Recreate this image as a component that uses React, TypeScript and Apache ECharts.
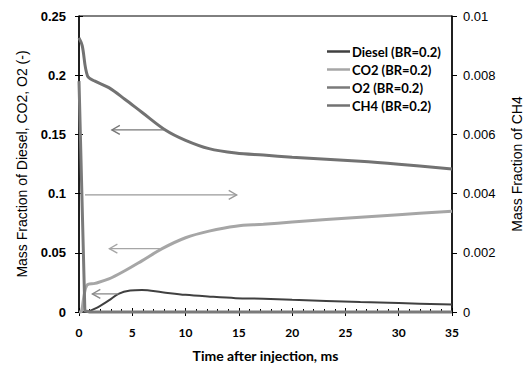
import React, { useEffect, useRef } from "react";
import * as echarts from "echarts";

const dieselT = [0, 0.7, 1.5, 2.8, 3.7, 4.8, 5.9, 7.8, 10, 12.1, 14.7, 17.3, 20, 26.4, 30, 35];
const dieselV = [0, 0.0003, 0.0028, 0.0098, 0.0153, 0.0181, 0.0186, 0.0167, 0.0145, 0.0131, 0.0117, 0.0112, 0.0103, 0.0084, 0.0075, 0.0064];

const co2T = [0, 0.15, 0.72, 1.5, 2.8, 4.3, 5.9, 7.8, 10, 12.2, 14.7, 17.3, 20, 26.4, 30, 35];
const co2V = [0, 0, 0.0223, 0.0242, 0.0279, 0.0348, 0.0432, 0.0535, 0.0627, 0.0683, 0.0725, 0.0741, 0.076, 0.08, 0.0822, 0.085];

const o2T = [0, 0.55, 1, 35];
const o2V = [0.195, 0.001, 0, 0];

const ch4T = [0, 0.3, 0.8, 1.5, 2.8, 4.3, 5.9, 8.1, 10, 12.2, 14.7, 17.3, 20, 26.4, 30, 35];
const ch4V = [0.00926, 0.009, 0.00797, 0.0078, 0.00758, 0.00719, 0.00675, 0.00615, 0.0058, 0.00552, 0.00537, 0.0053, 0.00523, 0.00509, 0.00499, 0.00483];

const seriesNames = ["Diesel (BR=0.2)", "CO2 (BR=0.2)", "O2 (BR=0.2)", "CH4 (BR=0.2)"];
const seriesColors = ["#404040", "#a6a6a6", "#7a7a7a", "#727272"];

// annotation arrows in data coords of left axis: [x, y]
const arrowFrom = [
  [8.1, 0.1538],
  [0.56, 0.0989],
  [7.8, 0.0535],
  [3.7, 0.0153],
];
const arrowTo = [
  [3.08, 0.1538],
  [14.8, 0.0989],
  [2.85, 0.0535],
  [1.25, 0.0153],
];
const arrowColors = ["#777777", "#9a9a9a", "#a6a6a6", "#8a8a8a"];

const zip = (t: number[], v: number[]) => t.map((x, i) => [x, v[i]]);

export default function App() {
  const ref = useRef<HTMLDivElement>(null);
  useEffect(() => {
    if (!ref.current) return;
    document.body.style.margin = "0";
    const chart = echarts.init(ref.current, null, { renderer: "svg" });
    const labelCal = { fontFamily: "Lato", fontWeight: "bold" as const, color: "#000" };
    const option: any = {
      animation: false,
      grid: { left: 79, right: 80, top: 16, bottom: 52, show: true, borderColor: "#000", borderWidth: 1, backgroundColor: "transparent" },
      legend: {
        orient: "vertical",
        left: 327,
        top: 44,
        padding: 0,
        icon: "rect",
        itemWidth: 23,
        itemHeight: 2.5,
        itemGap: 3,
        data: seriesNames,
        textStyle: { ...labelCal, fontSize: 13, padding: [0, 0, 0, -3], lineHeight: 15 },
      },
      xAxis: [
        {
          type: "value",
          min: 0,
          max: 35,
          interval: 5,
          axisLine: { lineStyle: { color: "#000", width: 1 } },
          axisTick: { inside: true, length: 4, lineStyle: { color: "#000" } },
          minorTick: { show: true, splitNumber: 5, length: 3, lineStyle: { color: "#000" } },
          splitLine: { show: false },
          axisLabel: { ...labelCal, fontSize: 12, margin: 14 },
          name: "Time after injection, ms",
          nameLocation: "middle",
          nameGap: 36,
          nameTextStyle: { ...labelCal, fontSize: 14 },
        },
        {
          type: "value",
          min: 0,
          max: 35,
          interval: 5,
          position: "bottom",
          axisLine: { show: false },
          axisTick: { length: 4, lineStyle: { color: "#000" } },
          axisLabel: { show: false },
          splitLine: { show: false },
        },
      ],
      yAxis: [
        {
          type: "value",
          position: "left",
          min: 0,
          max: 0.25,
          interval: 0.05,
          axisLine: { show: true, lineStyle: { color: "#000", width: 1.5 } },
          axisTick: { show: true, inside: true, length: 4, lineStyle: { color: "#000" } },
          splitLine: { show: false },
          axisLabel: { fontFamily: "Liberation Sans", fontWeight: "bold", fontSize: 13, color: "#000", margin: 13 },
          name: "Mass Fraction of Diesel, CO2, O2 (-)",
          nameLocation: "middle",
          nameGap: 50,
          nameTextStyle: { fontFamily: "Liberation Sans", fontSize: 14, color: "#000" },
        },
        {
          type: "value",
          position: "left",
          min: 0,
          max: 0.25,
          interval: 0.05,
          axisLine: { show: false },
          axisTick: { show: true, length: 4, lineStyle: { color: "#000" } },
          axisLabel: { show: false },
          splitLine: { show: false },
        },
        {
          type: "value",
          position: "right",
          min: 0,
          max: 0.01,
          interval: 0.002,
          axisLine: { show: true, lineStyle: { color: "#000", width: 1.5 } },
          axisTick: { show: true, length: 5, lineStyle: { color: "#000" } },
          splitLine: { show: false },
          axisLabel: { fontFamily: "Liberation Sans", fontSize: 13, color: "#000", margin: 11 },
          name: "Mass Fraction of CH4",
          nameLocation: "middle",
          nameGap: 58,
          nameRotate: 90,
          nameTextStyle: { fontFamily: "Liberation Sans", fontSize: 14, color: "#000" },
        },
      ],
      series: [
        { name: seriesNames[0], type: "line", data: zip(dieselT, dieselV), yAxisIndex: 0, color: seriesColors[0], lineStyle: { width: 2 } },
        { name: seriesNames[1], type: "line", data: zip(co2T, co2V), yAxisIndex: 0, color: seriesColors[1], lineStyle: { width: 3 } },
        { name: seriesNames[2], type: "line", data: zip(o2T, o2V), yAxisIndex: 0, color: seriesColors[2], lineStyle: { width: 3 }, smooth: false },
        { name: seriesNames[3], type: "line", data: zip(ch4T, ch4V), yAxisIndex: 2, color: seriesColors[3], lineStyle: { width: 3 } },
      ].map((s: any) => ({
        smooth: 0.35,
        showSymbol: false,
        symbol: "none",
        clip: false,
        ...s,
      })),
    };
    chart.setOption(option);

    const graphics: any[] = [];
    arrowFrom.forEach((f, i) => {
      const p0 = chart.convertToPixel({ xAxisIndex: 0, yAxisIndex: 0 }, f) as number[];
      const p1 = chart.convertToPixel({ xAxisIndex: 0, yAxisIndex: 0 }, arrowTo[i]) as number[];
      const dx = p1[0] - p0[0];
      const dy = p1[1] - p0[1];
      const len = Math.hypot(dx, dy) || 1;
      const ux = dx / len;
      const uy = dy / len;
      const nx = -uy;
      const ny = ux;
      const hl = 8;
      const hw = 4.5;
      const a = [p1[0] - ux * hl + nx * hw, p1[1] - uy * hl + ny * hw];
      const b = [p1[0] - ux * hl - nx * hw, p1[1] - uy * hl - ny * hw];
      const style = { stroke: arrowColors[i], lineWidth: 1.3, fill: "none" };
      graphics.push({ type: "polyline", shape: { points: [p0, p1] }, style, z: 10 });
      graphics.push({ type: "polyline", shape: { points: [a, p1, b] }, style, z: 10 });
    });
    chart.setOption({ graphic: graphics });

    return () => chart.dispose();
  }, []);
  return <div ref={ref} style={{ width: 532, height: 367 }} />;
}
